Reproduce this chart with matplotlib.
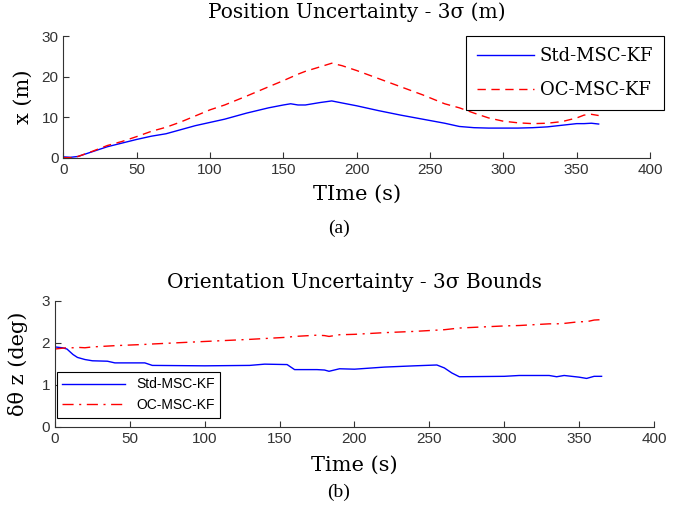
import numpy as np
import matplotlib
matplotlib.use('Agg')
import matplotlib.pyplot as plt

# position uncertainty (top)
t_pos = [0, 5, 10, 20, 30, 40, 50, 60, 70, 80, 90, 100, 110, 125, 140, 150, 155, 160, 165, 175, 183,
         190, 200, 215, 230, 245, 260, 270, 280, 290, 300, 310, 320, 330, 340, 350, 355, 360, 365]
std_pos = [0.2, 0.1, 0.3, 1.5, 2.7, 3.6, 4.5, 5.3, 5.9, 6.9, 7.9, 8.7, 9.5, 11.0, 12.3, 13.0, 13.3, 13.0, 13.0, 13.6, 14.0,
           13.5, 12.8, 11.6, 10.5, 9.5, 8.5, 7.7, 7.4, 7.3, 7.3, 7.3, 7.4, 7.6, 8.0, 8.4, 8.4, 8.5, 8.3]
oc_pos = [0.0, 0.0, 0.3, 1.6, 3.0, 4.0, 5.2, 6.5, 7.5, 8.8, 10.3, 11.8, 13.0, 15.2, 17.5, 19.0, 19.8, 20.6, 21.3, 22.4, 23.3,
          22.7, 21.5, 19.5, 17.5, 15.5, 13.3, 12.3, 11.0, 9.8, 9.0, 8.6, 8.4, 8.5, 8.9, 9.8, 10.5, 10.7, 10.4]

# orientation uncertainty (bottom)
t_ori = [0, 5, 8, 12, 15, 20, 25, 35, 40, 60, 65, 100, 130, 140, 155, 160, 175, 180, 183, 190, 200,
         220, 240, 255, 260, 265, 270, 300, 310, 330, 335, 340, 350, 355, 360, 365]
std_ori = [1.9, 1.88, 1.85, 1.72, 1.65, 1.6, 1.57, 1.56, 1.52, 1.52, 1.46, 1.45, 1.46, 1.49, 1.48, 1.36, 1.36, 1.35, 1.32, 1.38, 1.37,
           1.42, 1.45, 1.47, 1.4, 1.28, 1.19, 1.2, 1.22, 1.22, 1.19, 1.22, 1.18, 1.15, 1.2, 1.2]
oc_ori = [1.85, 1.87, 1.88, 1.88, 1.89, 1.88, 1.9, 1.92, 1.93, 1.96, 1.97, 2.03, 2.08, 2.1, 2.13, 2.15, 2.18, 2.17, 2.15, 2.19, 2.2,
          2.24, 2.27, 2.3, 2.31, 2.33, 2.35, 2.4, 2.41, 2.45, 2.45, 2.46, 2.5, 2.5, 2.54, 2.55]

fig = plt.figure(figsize=(6.78, 5.08), dpi=100)

def style(ax, ymax):
    ax.set_xlim(0, 400)
    ax.set_ylim(0, ymax)
    ax.spines['top'].set_visible(False)
    ax.spines['right'].set_visible(False)
    ax.spines['left'].set_color('#333333')
    ax.spines['bottom'].set_color('#333333')
    ax.tick_params(direction='in', length=4, colors='#333333', labelsize=11)
    ax.set_xticks(range(0, 401, 50))
    for lbl in ax.get_xticklabels() + ax.get_yticklabels():
        lbl.set_family('Liberation Sans')

ax1 = fig.add_axes([0.0934, 0.6896, 0.8653, 0.2394])
ax1.plot(t_pos, std_pos, color='blue', lw=1, label='Std-MSC-KF')
ax1.plot(t_pos, oc_pos, color='red', lw=1, ls=(0, (6, 4)), label='OC-MSC-KF')
ax1.set_yticks([0, 10, 20, 30])
style(ax1, 30)
ax1.set_title('Position Uncertainty - 3σ (m)', family='DejaVu Serif', fontsize=14.5, pad=13)
ax1.set_xlabel('TIme (s)', family='DejaVu Serif', fontsize=15, labelpad=6)
ax1.set_ylabel('x (m)', family='DejaVu Serif', fontsize=15, labelpad=6)
leg1 = ax1.legend(loc='upper right', bbox_to_anchor=(1.024, 1.0), borderaxespad=0,
                  prop={'family': 'DejaVu Serif', 'size': 13},
                  fancybox=False, edgecolor='black', framealpha=1, handlelength=3.2, handletextpad=0.3,
                  labelspacing=0.9, borderpad=0.6)
leg1.get_frame().set_linewidth(0.8)

ax2 = fig.add_axes([0.0811, 0.160, 0.8835, 0.248])
ax2.plot(t_ori, std_ori, color='blue', lw=1, label='Std-MSC-KF')
ax2.plot(t_ori, oc_ori, color='red', lw=1, ls=(0, (8, 4, 1.5, 4)), label='OC-MSC-KF')
ax2.set_yticks([0, 1, 2, 3])
style(ax2, 3)
ax2.set_title('Orientation Uncertainty - 3σ Bounds', family='DejaVu Serif', fontsize=14.5, pad=9)
ax2.set_xlabel('Time (s)', family='DejaVu Serif', fontsize=15, labelpad=7)
ax2.set_ylabel('δθ z (deg)', family='DejaVu Serif', fontsize=15, labelpad=10)
leg2 = ax2.legend(loc='lower left', bbox_to_anchor=(0.003, 0.07), borderaxespad=0,
                  prop={'family': 'Liberation Sans', 'size': 10},
                  fancybox=False, edgecolor='black', framealpha=1, handlelength=4.5, labelspacing=0.5)
leg2.get_frame().set_linewidth(0.8)

fig.text(0.5, 0.551, '(a)', ha='center', va='center', family='Liberation Serif', fontsize=14)
fig.text(0.5, 0.031, '(b)', ha='center', va='center', family='Liberation Serif', fontsize=14)

fig.savefig('out.png', dpi=100)
